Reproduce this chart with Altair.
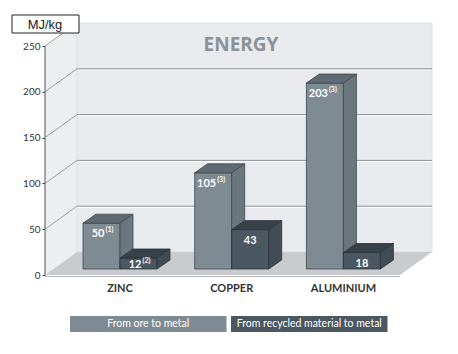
import altair as alt
import pandas as pd

# ---------------- data ----------------
categories = ["ZINC", "COPPER", "ALUMINIUM"]
series_names = ["From ore to metal", "From recycled material to metal"]
ore_values = [50, 105, 203]
recycled_values = [12, 43, 18]
ore_notes = ["(1)", "(3)", "(3)"]
recycled_notes = ["(2)", "", ""]
y_ticks = [0, 50, 100, 150, 200, 250]
grid_values = [50, 100, 150, 200, 250]
chart_title = "ENERGY"
unit_label = "MJ/kg"

# ---------------- layout (pixels) ----------------
LEFT, TOP, PLOT_W, PLOT_H = 45, 22, 400, 253
PX = 45.8 / 50.0              # pixels per MJ/kg
YMAX = PLOT_H / PX
WALL_X = LEFT + 32            # back wall left edge
WALL_DY = 23 / PX             # depth of the box in data units
WALL_RIGHT = 432
FLOOR_FRONT_RIGHT = 400
BAR_BASE = 6 / PX
BAR_W = 37
BAR_DX = 13
BAR_DY = 9 / PX
GROUP0 = 120
GROUP_STEP = 111.7

palette = [
    dict(front="#7f8b93", top="#5f6a72", side="#6b767e", stroke="#3d464d"),
    dict(front="#4b5862", top="#36414a", side="#414c55", stroke="#2b343a"),
]

xs = alt.Scale(domain=[LEFT, LEFT + PLOT_W], nice=False, zero=False)
ys = alt.Scale(domain=[0, YMAX], nice=False, zero=False)
y_axis = alt.Axis(values=y_ticks, domain=False, grid=False, ticks=True, tickSize=3,
                  tickColor="#444", labelColor="#333", labelFont="Lato",
                  labelFontSize=10, labelPadding=2, title=None)


def X(f="x"):
    return alt.X(f"{f}:Q", scale=xs, axis=None)


def Y(f="y"):
    return alt.Y(f"{f}:Q", scale=ys, axis=y_axis)


# ---------------- box (walls, floor, grid) ----------------
side_wall = pd.DataFrame({"x": [LEFT, WALL_X], "y": [0, WALL_DY],
                          "y2": [y_ticks[-1], y_ticks[-1] + WALL_DY]})
back_wall = pd.DataFrame({"x": [WALL_X], "x2": [WALL_RIGHT], "y": [WALL_DY],
                          "y2": [y_ticks[-1] + WALL_DY]})
floor = pd.DataFrame({"x": [LEFT, WALL_X, FLOOR_FRONT_RIGHT, WALL_RIGHT],
                      "y": [0, 0, 0, WALL_DY],
                      "y2": [0, WALL_DY, WALL_DY, WALL_DY]})
back_grid = pd.DataFrame({"x": WALL_X, "x2": WALL_RIGHT,
                          "y": [v + WALL_DY for v in grid_values[:-1]]})
back_grid_hi = back_grid.assign(y=back_grid["y"] - 1.2 / PX)
side_grid = pd.DataFrame({"x": LEFT, "x2": WALL_X, "y": grid_values,
                          "y2": [v + WALL_DY for v in grid_values]})
front_edge = pd.DataFrame({"x": [LEFT], "x2": [FLOOR_FRONT_RIGHT], "y": [-1.5 / PX]})
axis_line = pd.DataFrame({"x": [LEFT], "y": [0], "y2": [y_ticks[-1]]})

layers = [
    alt.Chart(side_wall).mark_area(color="#eceef0").encode(x=X(), y=Y(), y2="y2"),
    alt.Chart(back_wall).mark_rect(color="#e8eaed", stroke="#dfe2e5").encode(
        x=X(), x2="x2", y=Y(), y2="y2"),
    alt.Chart(back_grid_hi).mark_rule(color="#ffffff", strokeWidth=1).encode(
        x=X(), x2="x2", y=Y()),
    alt.Chart(back_grid).mark_rule(color="#8e9398", strokeWidth=1).encode(
        x=X(), x2="x2", y=Y()),
    alt.Chart(side_grid).mark_rule(color="#9a9fa4", strokeWidth=1).encode(
        x=X(), x2="x2", y=Y(), y2="y2"),
    alt.Chart(floor).mark_area(color="#c9cbce").encode(x=X(), y=Y(), y2="y2"),
    alt.Chart(front_edge).mark_rule(color="#b3b6b9", strokeWidth=1).encode(
        x=X(), x2="x2", y=Y()),
    alt.Chart(axis_line).mark_rule(color="#555", strokeWidth=1).encode(
        x=X(), y=Y(), y2="y2"),
]

# ---------------- 3D bars ----------------
label_rows = []
for j, (vals, notes) in enumerate([(ore_values, ore_notes),
                                   (recycled_values, recycled_notes)]):
    fronts, faces = [], []
    for i, (cat, v, note) in enumerate(zip(categories, vals, notes)):
        c = GROUP0 + i * GROUP_STEP
        x0 = c - BAR_W + j * BAR_W
        x1 = x0 + BAR_W
        top = BAR_BASE + v
        fronts.append(dict(x=x0, x2=x1, y=BAR_BASE, y2=top))
        for xx, lo, hi in [(x0, top, top), (x0 + BAR_DX, top, top + BAR_DY),
                           (x1, top, top + BAR_DY),
                           (x1 + BAR_DX, top + BAR_DY, top + BAR_DY)]:
            faces.append(dict(face=f"{cat}-top", x=xx, y=lo, y2=hi,
                              fill=palette[j]["top"]))
        for xx, lo, hi in [(x1, BAR_BASE, top),
                           (x1 + BAR_DX, BAR_BASE + BAR_DY, top + BAR_DY)]:
            faces.append(dict(face=f"{cat}-side", x=xx, y=lo, y2=hi,
                              fill=palette[j]["side"]))
        ly = max(top - 11 / PX, BAR_BASE + 4.5 / PX)
        label_rows.append(dict(xc=(x0 + x1) / 2, xn=(x0 + x1) / 2 + 3,
                               xs=(x0 + x1) / 2 + 4, y=ly, num=str(v), note=note))
    layers.append(
        alt.Chart(pd.DataFrame(fronts)).mark_rect(
            color=palette[j]["front"], stroke=palette[j]["stroke"], strokeWidth=0.8
        ).encode(x=X(), x2="x2", y=Y(), y2="y2"))
    layers.append(
        alt.Chart(pd.DataFrame(faces)).mark_area(
            stroke=palette[j]["stroke"], strokeWidth=0.8, strokeJoin="round"
        ).encode(x=X(), y=Y(), y2="y2", detail="face:N",
                 fill=alt.Fill("fill:N", scale=None)))

labels = pd.DataFrame(label_rows)
noted = labels[labels["note"] != ""]
plain = labels[labels["note"] == ""]
lbl_font = dict(font="Lato", fontWeight="bold", color="white", baseline="middle")
layers += [
    alt.Chart(noted).mark_text(align="right", fontSize=11, **lbl_font).encode(
        x=X("xn"), y=Y(), text="num:N"),
    alt.Chart(noted).mark_text(align="left", fontSize=7, dy=-4, **lbl_font).encode(
        x=X("xs"), y=Y(), text="note:N"),
    alt.Chart(plain).mark_text(align="center", fontSize=11, **lbl_font).encode(
        x=X("xc"), y=Y(), text="num:N"),
]

# ---------------- category labels ----------------
cat_df = pd.DataFrame({"cat": categories,
                       "x": [GROUP0 + i * GROUP_STEP for i in range(len(categories))],
                       "y": (275 - 289) / PX})
layers.append(alt.Chart(cat_df).mark_text(
    font="Lato", fontWeight="bold", fontSize=11, color="#333", baseline="middle"
).encode(x=X(), y=Y(), text="cat:N"))

# ---------------- legend ----------------
LEG_X0, LEG_W, LEG_GAP = 70, 156.5, 4.5
leg_df = pd.DataFrame({
    "name": series_names,
    "x": [LEG_X0 + k * (LEG_W + LEG_GAP) for k in range(2)],
    "x2": [LEG_X0 + k * (LEG_W + LEG_GAP) + LEG_W for k in range(2)],
    "xc": [LEG_X0 + k * (LEG_W + LEG_GAP) + LEG_W / 2 for k in range(2)],
    "y": (275 - 316) / PX, "y2": (275 - 332) / PX, "yc": (275 - 324) / PX,
    "fill": [palette[0]["front"], palette[1]["front"]],
})
layers += [
    alt.Chart(leg_df).mark_rect().encode(x=X(), x2="x2", y=Y(), y2="y2",
                                         fill=alt.Fill("fill:N", scale=None)),
    alt.Chart(leg_df).mark_text(font="Lato", fontSize=10.5, color="white",
                                baseline="middle").encode(
        x=X("xc"), y=Y("yc"), text="name:N"),
]

# ---------------- title & unit box ----------------
one = pd.DataFrame({"t": [chart_title], "u": [unit_label]})
layers += [
    alt.Chart(one).mark_text(font="Open Sans", fontWeight="bold", fontSize=19,
                             color="#8b9196", baseline="middle").encode(
        x=alt.value(241 - LEFT), y=alt.value(45 - TOP), text="t:N"),
    alt.Chart(one).mark_rect(fill="white", stroke="#222", strokeWidth=1).encode(
        x=alt.value(12 - LEFT), x2=alt.value(79 - LEFT),
        y=alt.value(15 - TOP), y2=alt.value(33 - TOP)),
    alt.Chart(one).mark_text(font="Liberation Sans", fontSize=13, color="#222",
                             baseline="middle").encode(
        x=alt.value(0), y=alt.value(24.5 - TOP), text="u:N"),
]

chart = alt.layer(*layers).properties(
    width=PLOT_W, height=PLOT_H,
    padding={"left": LEFT, "top": TOP, "right": 458 - LEFT - PLOT_W,
             "bottom": 354 - TOP - PLOT_H},
    autosize=alt.AutoSizeParams(type="none"),
    background="white",
).configure_view(stroke=None)

chart.save("out.html", embed_options={"renderer": "svg", "actions": False})
